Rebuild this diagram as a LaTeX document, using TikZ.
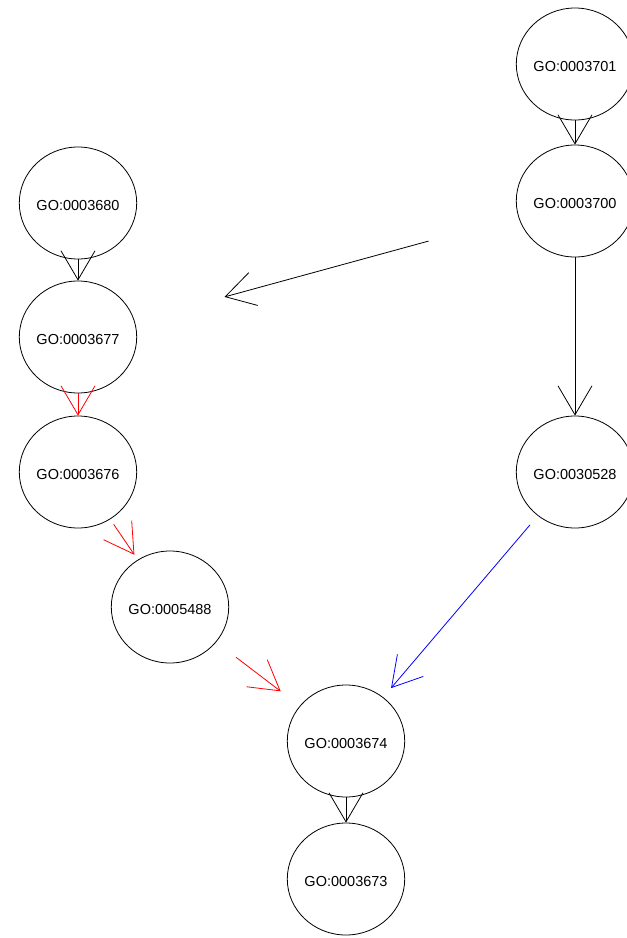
\documentclass[tikz,border=0pt]{standalone}
\usepackage{fontspec}
\setmainfont{Liberation Sans}
\usetikzlibrary{shapes.geometric,arrows.meta}
\tikzset{
  term/.style={draw=black, line width=0.8pt, ellipse, minimum width=116pt, minimum height=112pt,
    inner sep=0pt, font=\fontsize{14.5}{17}\selectfont, text height=15pt, text depth=0pt},
  isa/.style={line width=0.8pt, -{Straight Barb[length=29pt,width=34pt,line width=0.8pt]}},
}
\begin{document}
\begin{tikzpicture}[x=1pt,y=-1pt]
  \clip (0,0) rectangle (627,938);
  \fill[white] (0,0) rectangle (627,938);

  % terms
  \node[term] (n3701) at (575,64)  {GO:0003701};
  \node[term] (n3700) at (575,201) {GO:0003700};
  \node[term] (n3680) at (78,203)  {GO:0003680};
  \node[term] (n3677) at (78,337)  {GO:0003677};
  \node[term] (n3676) at (78,472)  {GO:0003676};
  \node[term] (n0528) at (575,472) {GO:0030528};
  \node[term] (n5488) at (170,607) {GO:0005488};
  \node[term] (n3674) at (346,741) {GO:0003674};
  \node[term] (n3673) at (346,879) {GO:0003673};

  % black is-a edges
  \draw[isa] (n3701) -- (n3700);
  \draw[isa] (n3680) -- (n3677);
  \draw[isa] (n3700) -- (n0528);
  \draw[isa] (n3674) -- (n3673);
  \draw[isa, shorten <=93pt, shorten >=93pt] (n3700) -- (n3677);

  % red path
  \draw[isa, red] (n3677) -- (n3676);
  \draw[isa, red, shorten <=6pt, shorten >=6pt] (n3676) -- (n5488);
  \draw[isa, red, shorten <=25pt, shorten >=24pt] (n5488) -- (n3674);

  % blue edge
  \draw[isa, blue, shorten <=12pt, shorten >=12pt] (n0528) -- (n3674);
\end{tikzpicture}
\end{document}
